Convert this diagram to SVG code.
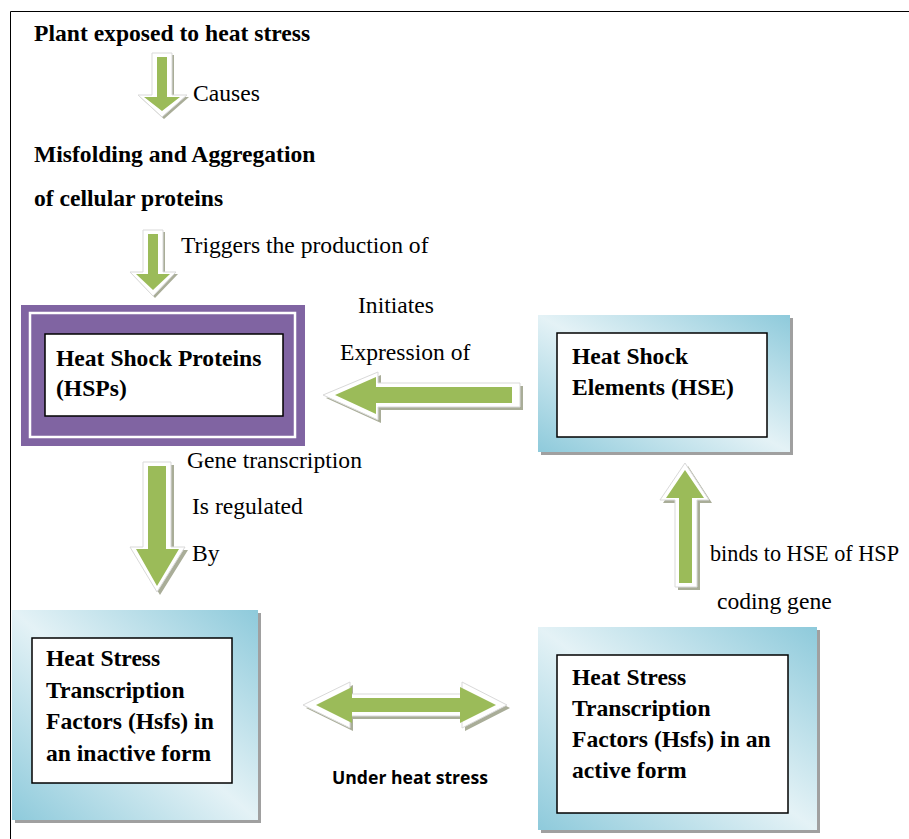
<svg xmlns="http://www.w3.org/2000/svg" width="909" height="839" viewBox="0 0 909 839">
<defs>
<linearGradient id="blue" x1="0" y1="1" x2="1" y2="0">
<stop offset="0" stop-color="#8ECADB"/>
<stop offset="0.5" stop-color="#E4F2F6"/>
<stop offset="1" stop-color="#8ECADB"/>
</linearGradient>
<style>
.t{font-family:"Liberation Serif","Times New Roman",serif;font-size:23.6px;fill:#000}
.b{font-weight:bold}
.u{font-family:"Open Sans","Liberation Sans",sans-serif;font-size:17px;font-weight:bold;fill:#000}
.sh{fill:#a9ad98}
.ol{fill:#ffffff;stroke:#d9d9d9;stroke-width:1}
.gr{fill:#9BBB59}
.bsh{fill:#a0a0a0}
.bg{fill:url(#blue)}
.in{fill:#ffffff;stroke:#000;stroke-width:1.5}
</style>
</defs>
<rect width="909" height="839" fill="#fff"/>

<g id="connectors">
<g id="arrow-causes">
<polygon class="sh" transform="translate(2,2)" points="152,53 172,53 172,95 187,95 162,117 138,95 152,95"/>
<polygon class="ol" points="152,53 172,53 172,95 187,95 162,117 138,95 152,95"/>
<polygon class="gr" points="157,57 167,57 167,97 180,97 162,111 144,97 157,97"/>
</g>
<g id="arrow-triggers">
<polygon class="sh" transform="translate(2,2)" points="143,230 163,230 163,272 176,272 153,296 130,272 143,272"/>
<polygon class="ol" points="143,230 163,230 163,272 176,272 153,296 130,272 143,272"/>
<polygon class="gr" points="148,234 158,234 158,274 170,274 153,290 136,274 148,274"/>
</g>
<g id="arrow-initiates">
<polygon class="sh" transform="translate(3,3)" points="323,395 378,372 378,383 520,383 520,407 378,407 378,420"/>
<polygon class="ol" points="323,395 378,372 378,383 520,383 520,407 378,407 378,420"/>
<polygon class="gr" points="335,395 376,377 376,387 512,387 512,403 376,403 376,414"/>
</g>
<g id="arrow-regulated">
<polygon class="sh" transform="translate(3,3)" points="143,462 171,462 171,547 185,547 157,592 130,547 143,547"/>
<polygon class="ol" points="143,462 171,462 171,547 185,547 157,592 130,547 143,547"/>
<polygon class="gr" points="148,466 166,466 166,549 179,549 157,586 136,549 148,549"/>
</g>
<g id="arrow-binds">
<polygon class="sh" transform="translate(3,3)" points="675,587 697,587 697,500 709,500 685,463 660,500 675,500"/>
<polygon class="ol" points="675,587 697,587 697,500 709,500 685,463 660,500 675,500"/>
<polygon class="gr" points="679,583 692,583 692,498 704,498 685,470 666,498 679,498"/>
</g>
<g id="arrow-heatstress">
<polygon class="sh" transform="translate(3,3)" points="303,705 350,682 350,694 462,694 462,682 507,705 462,728 462,716 350,716 350,728"/>
<polygon class="ol" points="303,705 350,682 350,694 462,694 462,682 507,705 462,728 462,716 350,716 350,728"/>
<polygon class="gr" points="316,705 352,687 352,698 460,698 460,687 496,705 460,723 460,712 352,712 352,723"/>
</g>
</g>

<g id="labels">
<text class="t b" x="34" y="41">Plant exposed to heat stress</text>
<text class="t" x="193" y="101">Causes</text>
<text class="t b" x="34" y="162">Misfolding and Aggregation</text>
<text class="t b" x="34" y="206">of cellular proteins</text>
<text class="t" x="181" y="253">Triggers the production of</text>
<text class="t" x="358" y="313">Initiates</text>
<text class="t" x="340" y="360">Expression of</text>
<text class="t" x="187" y="468">Gene transcription</text>
<text class="t" x="192" y="514">Is regulated</text>
<text class="t" x="192" y="561">By</text>
<text class="t" x="710" y="561" textLength="189" lengthAdjust="spacingAndGlyphs">binds to HSE of HSP</text>
<text class="t" x="717" y="609">coding gene</text>
<text class="u" x="332" y="784" textLength="156" lengthAdjust="spacingAndGlyphs">Under heat stress</text>
</g>

<g id="node-hsp">
<rect x="21" y="305" width="284" height="141" fill="#8064A2"/>
<rect x="30" y="313" width="265" height="124" fill="none" stroke="#fff" stroke-width="2.5"/>
<rect class="in" x="45" y="334" width="238" height="82"/>
<text class="t b" x="56" y="366">Heat Shock Proteins</text>
<text class="t b" x="56" y="396">(HSPs)</text>
</g>

<g id="node-hse">
<rect class="bsh" x="541" y="318" width="252" height="137"/>
<rect class="bg" x="538" y="315" width="252" height="137"/>
<rect class="in" x="557" y="333" width="210" height="104"/>
<text class="t b" x="572" y="364">Heat Shock</text>
<text class="t b" x="572" y="395">Elements (HSE)</text>
</g>

<g id="node-hsf-inactive">
<rect class="bsh" x="15" y="613" width="246" height="210"/>
<rect class="bg" x="12" y="610" width="246" height="210"/>
<rect class="in" x="32" y="638" width="200" height="145"/>
<text class="t b" x="46" y="666">Heat Stress</text>
<text class="t b" x="46" y="698">Transcription</text>
<text class="t b" x="46" y="729">Factors (Hsfs) in</text>
<text class="t b" x="46" y="761">an inactive form</text>
</g>

<g id="node-hsf-active">
<rect class="bsh" x="541" y="630" width="279" height="203"/>
<rect class="bg" x="538" y="627" width="279" height="203"/>
<rect class="in" x="557" y="655" width="231" height="158"/>
<text class="t b" x="572" y="685">Heat Stress</text>
<text class="t b" x="572" y="716">Transcription</text>
<text class="t b" x="572" y="747">Factors (Hsfs) in an</text>
<text class="t b" x="572" y="778">active form</text>
</g>

<g id="page-border" stroke="#000" stroke-width="1">
<line x1="10.5" y1="11.5" x2="909" y2="11.5"/>
<line x1="10.5" y1="11.5" x2="10.5" y2="839"/>
</g>
</svg>
